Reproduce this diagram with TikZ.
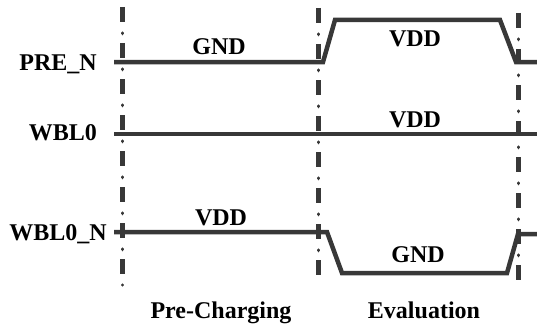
\documentclass[tikz,border=0pt]{standalone}
\usepackage{fontspec}
\setmainfont{Liberation Serif}
\definecolor{wave}{HTML}{383838}
\begin{document}
\begin{tikzpicture}[x=1pt,y=-1pt,
  sig/.style={draw=wave,line width=4.5pt},
  vdash/.style={draw=wave,line width=4.2pt,dash pattern=on 15pt off 21pt},
  vdot/.style={draw=wave,line width=3.4pt,line cap=round,dash pattern=on 0.6pt off 35.4pt,dash phase=10pt},
  lbl/.style={font=\fontsize{24}{28}\selectfont\bfseries,inner sep=0pt,anchor=base},
  sname/.style={font=\fontsize{24}{28}\selectfont\bfseries,inner sep=0pt,anchor=base east}]
\useasboundingbox (0,0) rectangle (537,329);
% vertical dash-dot lines
\coordinate (v1t) at (122.5,7);  \coordinate (v1b) at (122.5,285);
\coordinate (v2t) at (318.5,8);  \coordinate (v2b) at (318.5,285);
\coordinate (v3t) at (518.5,13); \coordinate (v3b) at (518.5,288);
\foreach \v in {v1,v2,v3}{
  \draw[vdash] (\v t) -- (\v b);
  \draw[vdot] (\v t) -- (\v b);
}
% signal names
\node[sname] (npre) at (97,70) {PRE\_N};
\node[sname] (nwbl) at (97,140) {WBL0};
\node[sname] (nwbln) at (107,240) {WBL0\_N};
% PRE_N waveform
\coordinate (p0) at (114,62);
\coordinate (p1) at (323,62);
\coordinate (p2) at (335,20);
\coordinate (p3) at (500,20);
\coordinate (p4) at (516,62);
\coordinate (p5) at (537,62);
\draw[sig] (p0) -- (p1) -- (p2) -- (p3) -- (p4) -- (p5);
% WBL0 waveform
\coordinate (w0) at (114,134);
\coordinate (w1) at (537,134);
\draw[sig] (w0) -- (w1);
% WBL0_N waveform
\coordinate (n0) at (114,232);
\coordinate (n1) at (327,232);
\coordinate (n2) at (342,273);
\coordinate (n3) at (507,273);
\coordinate (n4) at (518,234);
\coordinate (n5) at (537,234);
\draw[sig] (n0) -- (n1) -- (n2) -- (n3) -- (n4) -- (n5);
% level labels
\node[lbl] (l1) at (219,54) {GND};
\node[lbl] (l2) at (415,47) {VDD};
\node[lbl] (l3) at (415,127) {VDD};
\node[lbl] (l4) at (221,225) {VDD};
\node[lbl] (l5) at (418,262) {GND};
% phase labels
\node[lbl] (ph1) at (221,318) {Pre-Charging};
\node[lbl] (ph2) at (424,318) {Evaluation};
\end{tikzpicture}
\end{document}
